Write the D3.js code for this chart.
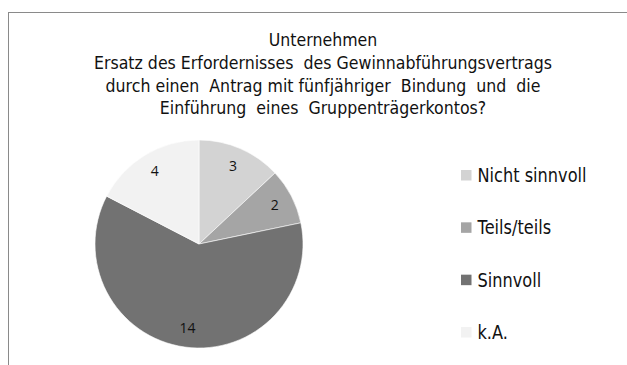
<!DOCTYPE html>
<html>
<head>
<meta charset="utf-8">
<script src="https://cdn.jsdelivr.net/npm/d3@7"></script>
<style>
  html, body { margin: 0; padding: 0; background: #fff; }
  svg { display: block; }
</style>
</head>
<body>
<svg id="chart" width="627" height="365"></svg>
<script>
// Survey answers (Unternehmen) – counts per answer category
const categories = ["Nicht sinnvoll", "Teils/teils", "Sinnvoll", "k.A."];
const counts = [3, 2, 14, 4];
const sliceColors = ["#d3d3d3", "#a5a5a5", "#727272", "#f2f2f2"];
const titleLines = [
  "Unternehmen",
  "Ersatz des Erfordernisses  des Gewinnabführungsvertrags",
  "durch einen  Antrag mit fünfjähriger  Bindung  und  die",
  "Einführung  eines  Gruppenträgerkontos?"
];

const svg = d3.select("#chart");
const W = 627, H = 365;
const textFont = "'DejaVu Sans', sans-serif";

// squeeze a text selection horizontally so that its widest line
// measures `target` px; every line gets the same factor
function squeezeTo(sel, target) {
  const widths = sel.nodes().map(n => n.getComputedTextLength());
  const factor = target / d3.max(widths);
  sel.each(function (d, i) {
    d3.select(this)
      .attr("textLength", widths[i] * factor)
      .attr("lengthAdjust", "spacingAndGlyphs");
  });
}

// chart frame (runs past the right and bottom edge of the view)
svg.append("rect")
  .attr("x", 8.5).attr("y", 12.5)
  .attr("width", W).attr("height", H)
  .attr("fill", "#fff")
  .attr("stroke", "#8a8a8a")
  .attr("stroke-width", 1);

// title
svg.append("g")
  .selectAll("text")
  .data(titleLines)
  .join("text")
  .attr("x", 323)
  .attr("y", (d, i) => 46 + i * 22.8)
  .attr("text-anchor", "middle")
  .attr("font-family", textFont)
  .attr("font-size", 18)
  .attr("fill", "#111")
  .style("white-space", "pre")
  .text(d => d)
  .call(squeezeTo, 458);

// pie
const cx = 199, cy = 244, r = 104;
const color = d3.scaleOrdinal().domain(categories).range(sliceColors);
const pie = d3.pie().sort(null).value(d => d.value);
const arcs = pie(categories.map((c, i) => ({ name: c, value: counts[i] })));
const arc = d3.arc().innerRadius(0).outerRadius(r);
const labelArc = d3.arc().innerRadius(r * 0.82).outerRadius(r * 0.82);

const g = svg.append("g").attr("transform", `translate(${cx},${cy})`);
g.selectAll("path")
  .data(arcs)
  .join("path")
  .attr("d", arc)
  .attr("fill", d => color(d.data.name))
  .attr("stroke", "#fff")
  .attr("stroke-width", 0.6);

g.selectAll("text")
  .data(arcs)
  .join("text")
  .attr("transform", d => `translate(${labelArc.centroid(d)})`)
  .attr("text-anchor", "middle")
  .attr("dy", "0.35em")
  .attr("font-family", "'Open Sans', 'Noto Sans', sans-serif")
  .attr("font-size", 14)
  .attr("fill", "#111")
  .text(d => d.data.value);

// legend
const legendY = d3.scalePoint().domain(categories).range([175, 332]);
const legend = svg.append("g")
  .selectAll("g")
  .data(categories)
  .join("g")
  .attr("transform", d => `translate(461,${legendY(d)})`);
legend.append("rect")
  .attr("x", 0).attr("y", -5)
  .attr("width", 10.5).attr("height", 10.5)
  .attr("fill", d => color(d));
legend.append("text")
  .attr("x", 16.5)
  .attr("y", 0)
  .attr("dy", "0.36em")
  .attr("font-family", textFont)
  .attr("font-size", 19.5)
  .attr("fill", "#111")
  .text(d => d)
  .call(squeezeTo, 109);
</script>
</body>
</html>
